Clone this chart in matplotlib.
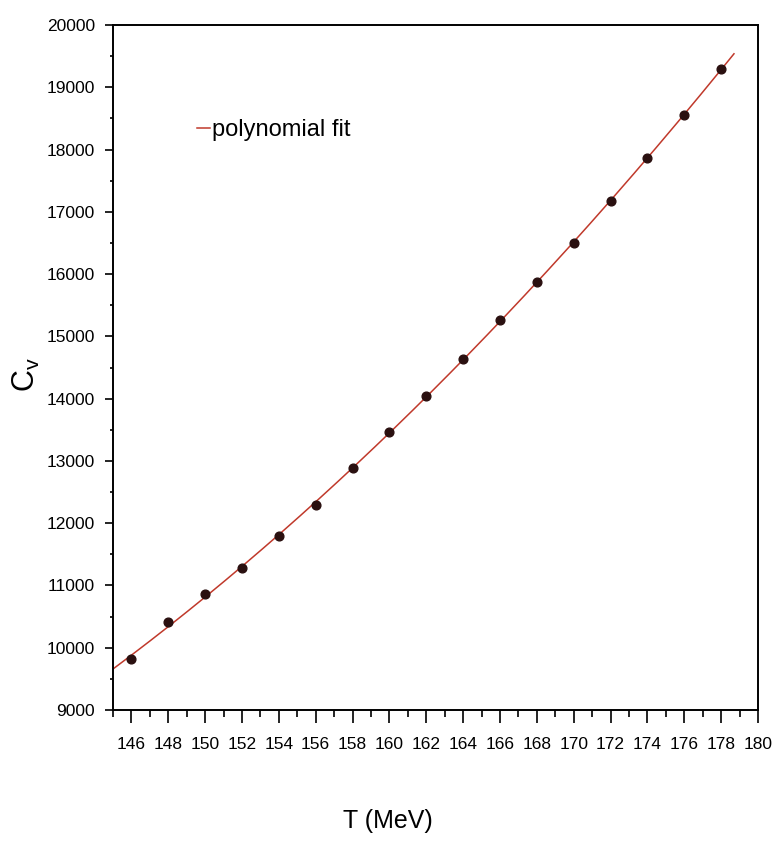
import numpy as np
import matplotlib.pyplot as plt
from matplotlib.ticker import MultipleLocator

plt.rcParams['font.family'] = ['Liberation Sans Narrow', 'Liberation Sans', 'DejaVu Sans']

# heat capacity vs temperature
T = [146, 148, 150, 152, 154, 156, 158, 160, 162, 164, 166, 168, 170, 172, 174, 176, 178]
Cv = [9820, 10420, 10860, 11275, 11790, 12290, 12880, 13465, 14040, 14635, 15265,
      15875, 16500, 17170, 17865, 18560, 19290]

# polynomial fit through the points
coef = np.polyfit(T, Cv, 2)
t_fit = np.linspace(145, 178.7, 200)
c_fit = np.polyval(coef, t_fit)

fig = plt.figure(figsize=(7.78, 8.46), dpi=100)
ax = fig.add_axes([0.1452, 0.1608, 0.829, 0.8096])

ax.plot(t_fit, c_fit, color='#c0392b', lw=1.1, label='polynomial fit', zorder=2)
ax.plot(T, Cv, 'o', color='#2a1010', ms=6.3, zorder=3)

ax.set_xlim(145, 180)
ax.set_ylim(9000, 20000)
ax.xaxis.set_major_locator(MultipleLocator(2))
ax.xaxis.set_minor_locator(MultipleLocator(1))
ax.yaxis.set_major_locator(MultipleLocator(1000))
ax.yaxis.set_minor_locator(MultipleLocator(500))
ax.set_xticks(np.arange(146, 181, 2))

for s in ax.spines.values():
    s.set_linewidth(1.4)
ax.tick_params(axis='x', which='major', direction='out', length=9.5, width=1.2, pad=10, labelsize=12.5)
ax.tick_params(axis='x', which='minor', direction='out', length=5, width=1.2)
ax.tick_params(axis='y', which='major', direction='out', length=6, width=1.2, pad=7, labelsize=12.5)
ax.tick_params(axis='y', which='minor', direction='out', length=2.5, width=1.2)

ax.set_xlabel('T (MeV)', fontsize=18)
ax.xaxis.set_label_coords(0.426, -0.145)
ax.set_ylabel('$\\mathregular{C_v}$', fontsize=22)
ax.yaxis.set_label_coords(-0.11, 0.49)

ax.legend(loc='center left', bbox_to_anchor=(0.130, 0.847), frameon=False,
          handlelength=0.55, handletextpad=0.1, borderpad=0, borderaxespad=0,
          fontsize=17)

fig.savefig('out.png', dpi=100)
